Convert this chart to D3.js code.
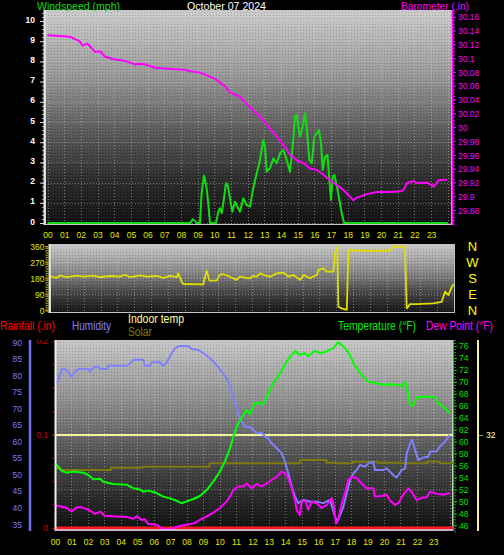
<!DOCTYPE html>
<html><head><meta charset="utf-8">
<script src="https://cdn.jsdelivr.net/npm/d3@7"></script>
<style>
html,body{margin:0;padding:0;background:#000;overflow:hidden}
svg{display:block}
text{font-family:"Liberation Sans",Arial,sans-serif}
</style>
</head><body><svg id="c" width="504" height="555"></svg>
<script>
// ---------- DATA ----------
const chartTitle = "October 07 2024";
const hourLabels = d3.range(0,24).map(h => String(h).padStart(2,"0"));
const hours = d3.range(0,24);

const windTicks = [0,1,2,3,4,5,6,7,8,9,10];
const baroTicks = [29.88,29.90,29.92,29.94,29.96,29.98,30.00,30.02,30.04,30.06,30.08,30.10,30.12,30.14,30.16];
const dirTicks = [0,90,180,270,360];
const dirLetters = ["N","E","S","W","N"];
const humTicks = [35,40,45,50,55,60,65,70,75,80,85,90];
const tempTicks = [46,48,50,52,54,56,58,60,62,64,66,68,70,72,74,76];
const rainTicks = [0,0.1,0.2];
const indoorTicks = [32];

// [hour, mph]
const windSpeed = [[0,0],[8.55,0],[8.7,0.18],[8.85,0.1],[8.94,0],[9.14,0],[9.24,1.47],[9.38,2.34],[9.44,2.16],[9.54,1.72],[9.64,0.97],[9.74,0],[10.1,0],[10.24,0.56],[10.34,0.73],[10.44,0.48],[10.54,0.98],[10.7,1.97],[10.8,1.88],[10.94,1.22],[11.08,0.56],[11.24,1.05],[11.38,0.81],[11.54,0.56],[11.74,1.22],[11.94,0.89],[12.14,0.81],[12.34,1.75],[12.54,2.45],[12.7,2.96],[12.94,4.1],[13.04,3.78],[13.14,2.54],[13.34,2.71],[13.54,3.2],[13.74,2.96],[13.94,3.45],[14.14,3.61],[14.34,3.12],[14.54,2.54],[14.7,3.78],[14.84,5.26],[14.94,5.35],[15.14,4.27],[15.3,4.77],[15.44,5.43],[15.54,4.77],[15.7,3.12],[15.84,2.96],[16.0,4.27],[16.14,4.44],[16.28,4.6],[16.4,3.95],[16.5,2.62],[16.64,3.28],[16.78,3.37],[16.9,2.13],[17.0,1.14],[17.1,2.29],[17.2,2.38],[17.34,1.88],[17.5,1.14],[17.64,0.48],[17.78,0],[24,0]];
// [hour, inHg]
const barometer = [[0,30.133],[0.75,30.132],[1.35,30.131],[1.95,30.124],[2.1,30.118],[2.4,30.121],[2.85,30.109],[3.15,30.11],[3.45,30.102],[4.05,30.098],[4.65,30.096],[5.25,30.091],[5.55,30.092],[5.85,30.091],[6.45,30.086],[7.05,30.085],[7.65,30.084],[8.25,30.083],[8.55,30.081],[9.15,30.079],[9.45,30.076],[10.05,30.07],[10.65,30.059],[10.95,30.05],[11.55,30.044],[12.0,30.032],[12.45,30.022],[12.95,30.01],[13.35,29.998],[13.75,29.986],[14.15,29.974],[14.55,29.96],[14.95,29.952],[15.35,29.948],[15.75,29.94],[16.15,29.938],[16.55,29.931],[16.95,29.923],[17.35,29.916],[17.75,29.909],[18.15,29.899],[18.35,29.894],[18.55,29.898],[19.15,29.903],[19.75,29.906],[20.55,29.906],[21.15,29.907],[21.35,29.909],[21.55,29.919],[21.95,29.922],[22.15,29.919],[22.75,29.92],[23.15,29.914],[23.45,29.923],[23.95,29.924]];
// [hour, degrees]
const windDir = [[0,189],[0.1,189],[0.4,183],[0.6,195],[1.0,186],[1.58,195],[1.98,189],[2.57,195],[2.97,186],[3.56,193],[4.16,189],[4.46,200],[4.75,186],[5.35,197],[5.74,189],[6.34,193],[6.73,183],[7.13,193],[7.53,186],[7.62,208],[7.82,161],[7.92,148],[9.11,146],[9.21,189],[9.31,223],[9.47,167],[9.9,167],[10.08,199],[10.28,204],[10.68,189],[11.08,171],[11.27,189],[11.67,183],[11.88,180],[12.08,193],[12.28,189],[12.48,208],[12.67,199],[13.07,189],[13.47,208],[13.87,212],[14.16,189],[14.46,199],[14.86,171],[15.05,199],[15.45,180],[15.85,199],[15.95,227],[16.24,236],[16.44,217],[16.83,217],[16.93,321],[17.07,358],[17.13,20],[17.33,11],[17.63,2],[17.73,339],[18.42,335],[20.2,335],[20.36,358],[21.09,358],[21.19,11],[21.39,35],[21.79,35],[22.78,39],[23.27,48],[23.47,105],[23.67,86],[23.87,133],[24.0,148]];
// [hour, %]
const humidity = [[0,76.8],[0.2,78.6],[0.4,81.8],[0.6,82.1],[0.81,81.1],[1.01,79.6],[1.22,81.1],[1.42,81.9],[2.03,81.9],[2.13,81.1],[2.23,81.9],[2.43,82.6],[2.63,82.6],[2.74,81.9],[3.14,81.9],[3.24,82.9],[4.36,82.9],[4.56,83.6],[4.76,84.7],[5.37,84.7],[5.47,82.9],[5.78,82.9],[5.88,84.0],[6.38,84.0],[6.55,82.9],[6.79,83.8],[7.09,86.7],[7.29,88.2],[7.6,88.9],[8.1,88.9],[8.31,88.0],[8.71,87.7],[9.02,86.7],[9.42,85.2],[9.73,83.7],[10.13,81.1],[10.44,79.1],[10.64,76.6],[10.84,73.1],[11.04,70.1],[11.25,67],[11.55,64.5],[11.85,64.5],[12.26,62.5],[12.57,62.7],[12.77,61.5],[12.97,61],[13.17,59.5],[13.48,58],[13.78,56.5],[13.98,53.9],[14.18,50.4],[14.39,46.4],[14.59,43.4],[14.79,41.4],[15.09,42.4],[15.5,41.8],[15.91,41.8],[16.31,41.4],[16.72,42.4],[17.02,37.3],[17.16,35.8],[17.33,37.8],[17.53,40.3],[17.73,44.4],[17.93,48.4],[18.14,50.4],[18.34,51.4],[18.54,52.9],[18.84,52.4],[19.05,53.4],[19.35,53.9],[19.45,51.4],[19.96,51.4],[20.16,51.9],[20.36,50.9],[20.67,49.4],[20.77,49.2],[21.08,51.4],[21.28,51.9],[21.38,56.4],[21.58,59.4],[21.72,60.5],[21.88,57.5],[22.09,54.4],[22.39,55.2],[22.69,55.4],[22.8,57],[23.2,57],[23.4,58.5],[23.71,60],[24,62]];
// [hour, °F]
const temperature = [[0,56.4],[0.2,55.8],[0.41,55.1],[0.71,54.8],[1.11,55.0],[1.72,54.8],[2.03,54.4],[2.33,53.7],[2.74,53.8],[2.94,53.3],[3.54,52.9],[4.36,52.8],[4.76,52.2],[5.17,52.0],[5.37,51.6],[5.67,51.8],[6.18,51.4],[6.58,50.8],[6.99,50.5],[7.4,50.1],[7.7,49.7],[8.0,50.0],[8.41,50.4],[8.81,50.9],[9.22,51.9],[9.62,53.3],[10.03,55.0],[10.33,56.7],[10.64,58.9],[10.84,60.8],[11.04,62.5],[11.25,63.6],[11.65,65.3],[11.85,64.6],[12.16,66.5],[12.36,66.5],[12.66,66.2],[12.87,67.5],[13.27,69.8],[13.68,71.4],[14.09,73.4],[14.39,74.5],[14.59,75.2],[14.89,74.5],[15.2,74.8],[15.4,74.3],[15.81,75.2],[16.11,74.8],[16.41,75.0],[16.72,75.4],[16.92,75.6],[17.22,76.6],[17.43,76.2],[17.73,75.3],[17.93,74.5],[18.14,73.1],[18.34,72.3],[18.64,71.2],[19.05,70.0],[19.45,69.8],[19.96,69.5],[20.36,69.6],[20.77,69.5],[21.08,69.2],[21.28,70.0],[21.42,68.6],[21.58,66.1],[21.78,66.1],[21.99,67.4],[22.39,67.5],[22.9,67.5],[23.1,67.4],[23.3,66.4],[23.61,65.9],[24,64.7]];
const dewPoint = [[0,48.9],[0.1,49.3],[0.3,49.2],[0.71,48.9],[1.01,48.3],[1.32,49.0],[1.62,49.0],[1.93,48.7],[2.23,48.3],[2.43,47.9],[2.74,48.3],[3.04,47.6],[3.54,47.5],[4.36,47.4],[4.76,47.1],[4.96,47.5],[5.27,46.9],[5.47,47.0],[5.67,46.2],[6.18,46.1],[6.49,45.5],[6.79,45.3],[7.19,45.5],[7.6,45.9],[8.0,46.1],[8.41,46.3],[8.81,46.9],[9.22,47.5],[9.62,48.1],[10.03,48.9],[10.44,50.0],[10.64,50.8],[10.84,51.9],[11.14,52.5],[11.45,52.5],[11.65,53.0],[11.96,52.2],[12.26,52.9],[12.57,52.5],[12.87,53.0],[13.17,53.6],[13.48,54.1],[13.78,55.0],[13.98,54.7],[14.18,53.9],[14.39,52.2],[14.59,50.2],[14.69,48.6],[14.89,47.7],[14.99,50.0],[15.2,50.2],[15.4,48.6],[15.6,50.0],[15.91,49.7],[16.21,48.9],[16.52,49.4],[16.82,50.5],[16.92,49.7],[17.08,46.3],[17.22,46.9],[17.43,49.7],[17.63,51.4],[17.83,53.6],[18.04,54.1],[18.34,53.9],[18.64,53.0],[18.95,52.2],[19.35,52.2],[19.45,50.8],[19.86,50.9],[20.16,51.1],[20.36,50.2],[20.67,49.4],[20.87,49.7],[21.17,51.1],[21.48,52.2],[21.68,51.6],[21.99,50.2],[22.29,50.6],[22.59,50.7],[22.8,51.6],[23.2,51.3],[23.61,51.1],[24,51.4]];
// [hour, solar (relative)]
const solar = [[0,32.5],[0.3,31.6],[3.4,32.8],[5.3,33.3],[9.4,35.1],[14.9,36.8],[16.5,35.4],[17.2,35.1],[18.1,35.9],[19.6,35.4],[21.0,35.1],[22.6,35.9],[23.4,35.1],[24.2,35.1]];
const indoorTemp = [[0,32],[24.2,32]];
const rainfall = [[0,0],[24.2,0]];

// ---------- LAYOUT ----------
const W = 504, H = 555;
const T = {x0:45, x1:452, y0:10, y1:225, id:"T"};
const M = {x0:50, x1:455, y0:244, y1:313, id:"M"};
const B = {x0:55, x1:453, y0:340, y1:531, id:"B"};

const xTop = d3.scaleLinear().domain([0,24]).range([47.5,447.8]);
const xMid = d3.scaleLinear().domain([0,24]).range([50,454]);
const xBot = d3.scaleLinear().domain([0,24]).range([55,449.8]);
const windY = d3.scaleLinear().domain([0,10]).range([223,21]);
const baroY = d3.scaleLinear().domain([29.88,30.16]).range([210,16.7]);
const dirY = d3.scaleLinear().domain([0,360]).range([310.3,246.3]);
const humY = d3.scaleLinear().domain([35,90]).range([524.3,342.3]);
const tempY = d3.scaleLinear().domain([46,76]).range([525.3,346]);
const rainY = d3.scaleLinear().domain([0,0.2]).range([528,341]);
const indoorY = d3.scaleLinear().domain([0,64]).range([530,340]);
const solarY = d3.scaleLinear().domain([0,100]).range([530,340]);

const svg = d3.select("#c");
svg.append("rect").attr("width",W).attr("height",H).attr("fill","#000");
const defs = svg.append("defs");
function grad(id, stops){
  const g = defs.append("linearGradient").attr("id",id).attr("x1",0).attr("y1",0).attr("x2",0).attr("y2",1);
  stops.forEach(([o,c]) => g.append("stop").attr("offset",o).attr("stop-color",c));
}
grad("gTop", [[0,"#cdcdcd"],[0.3,"#9a9a9a"],[0.55,"#5e5e5e"],[0.8,"#2a2a2a"],[1,"#111"]]);
grad("gMid", [[0,"#cccccc"],[0.4,"#8a8a8a"],[0.75,"#3c3c3c"],[1,"#151515"]]);
grad("gBot", [[0,"#c8c8c8"],[0.3,"#939393"],[0.6,"#525252"],[0.85,"#262626"],[1,"#0e0e0e"]]);
const pat = defs.append("pattern").attr("id","dith").attr("width",3).attr("height",3).attr("patternUnits","userSpaceOnUse");
pat.append("rect").attr("x",0).attr("y",0).attr("width",1).attr("height",1).attr("fill","rgba(0,0,0,0.18)");
pat.append("rect").attr("x",2).attr("y",1).attr("width",1).attr("height",1).attr("fill","rgba(255,255,255,0.08)");

function clip(P){ defs.append("clipPath").attr("id","c"+P.id).append("rect").attr("x",P.x0).attr("y",P.y0).attr("width",P.x1-P.x0).attr("height",P.y1-P.y0); }
clip(T); clip(M); clip(B);
defs.append("clipPath").attr("id","cRainLab").append("rect").attr("x",0).attr("y",339.5).attr("width",60).attr("height",200);

function panel(P, g){
  svg.append("rect").attr("x",P.x0).attr("y",P.y0).attr("width",P.x1-P.x0).attr("height",P.y1-P.y0).attr("fill",`url(#${g})`);
  svg.append("rect").attr("x",P.x0).attr("y",P.y0).attr("width",P.x1-P.x0).attr("height",P.y1-P.y0).attr("fill","url(#dith)");
}
panel(T,"gTop"); panel(M,"gMid"); panel(B,"gBot");

const gridCol = "rgba(215,215,215,0.45)";
function vgrid(P, x){
  svg.append("g").selectAll("line").data(d3.range(0,25)).join("line")
    .attr("x1",d=>Math.round(x(d))+0.5).attr("x2",d=>Math.round(x(d))+0.5)
    .attr("y1",P.y0).attr("y2",P.y1).attr("stroke",gridCol).attr("stroke-dasharray","1,2")
    .attr("clip-path","url(#c"+P.id+")");
}
function hgrid(P, y, vals){
  svg.append("g").selectAll("line").data(vals).join("line")
    .attr("x1",P.x0).attr("x2",P.x1).attr("y1",d=>Math.round(y(d))+0.5).attr("y2",d=>Math.round(y(d))+0.5)
    .attr("stroke",gridCol).attr("stroke-dasharray","1,2");
}
vgrid(T,xTop); hgrid(T,windY,windTicks);
vgrid(M,xMid); hgrid(M,dirY,[90,180,270]);
vgrid(B,xBot); hgrid(B,tempY,[52,58,64,70]);

function frame(P){
  svg.append("rect").attr("x",P.x0+0.5).attr("y",P.y0+0.5).attr("width",P.x1-P.x0-1).attr("height",P.y1-P.y0-1)
    .attr("fill","none").attr("stroke","#c4c4c4").attr("stroke-width",1);
}
frame(T); frame(M); frame(B);

function line(data, x, y, color, w, clipId, curve){
  svg.append("path").datum(data).attr("fill","none").attr("stroke",color).attr("stroke-width",w)
    .attr("stroke-linejoin","round").attr("clip-path",`url(#${clipId})`)
    .attr("d", d3.line().x(d=>x(d[0])).y(d=>y(d[1])).curve(curve||d3.curveLinear));
}

// ---------- TOP PANEL ----------
line(windSpeed, xTop, windY, "#11dd11", 2, "cT");
line(barometer, xTop, baroY, "#ff00ff", 2, "cT");

svg.append("line").attr("x1",T.x0-0.5).attr("x2",T.x0-0.5).attr("y1",T.y0).attr("y2",T.y1).attr("stroke","#e8e8e8").attr("stroke-width",2);
const wMinor = svg.append("g").attr("transform",`translate(${T.x0-1},0)`).call(d3.axisLeft(windY).tickValues(d3.range(0,10.41,0.2)).tickSize(2).tickFormat(""));
wMinor.select(".domain").remove(); wMinor.selectAll("line").attr("stroke","#bbb");
const wAx = svg.append("g").attr("transform",`translate(${T.x0-1},0)`).call(d3.axisLeft(windY).tickValues(windTicks).tickSize(4).tickPadding(5).tickFormat(d3.format("d")));
wAx.select(".domain").remove();
wAx.selectAll("line").attr("stroke","#ddd");
wAx.selectAll("text").attr("fill","#fff").attr("font-size",8.5).attr("font-weight","bold").attr("dy","0.12em");

svg.append("line").attr("x1",T.x1+0.5).attr("x2",T.x1+0.5).attr("y1",T.y0).attr("y2",T.y1).attr("stroke","#ff00ff").attr("stroke-width",1.5);
const bMinor = svg.append("g").attr("transform",`translate(${T.x1+1},0)`).call(d3.axisRight(baroY).tickValues(d3.range(29.86,30.171,0.005)).tickSize(2).tickFormat(""));
bMinor.select(".domain").remove(); bMinor.selectAll("line").attr("stroke","#ff00ff");
const bAx = svg.append("g").attr("transform",`translate(${T.x1+1},0)`).call(d3.axisRight(baroY).tickValues(baroTicks).tickSize(3).tickPadding(2).tickFormat(d => String(+d.toFixed(2))));
bAx.select(".domain").remove();
bAx.selectAll("line").attr("stroke","#ff00ff");
bAx.selectAll("text").attr("fill","#ff00ff").attr("font-size",8.5).attr("dy","0.38em");

const hTop = svg.append("g").attr("transform",`translate(0,${T.y1})`).call(d3.axisBottom(xTop).tickValues(hours).tickSize(0).tickFormat((d,i)=>hourLabels[i]));
hTop.select(".domain").remove();
hTop.selectAll("text").attr("fill","#e6e600").attr("font-size",8.5).attr("y",10).attr("dy","0.35em");

function label(txt, x, y, color, len, size, anchor){
  const t = svg.append("text").attr("x",x).attr("y",y).attr("fill",color).attr("font-size",size||12).text(txt);
  if (len) t.attr("textLength",len).attr("lengthAdjust","spacingAndGlyphs");
  if (anchor) t.attr("text-anchor",anchor);
  return t;
}
label("Windspeed (mph)", 37, 10, "#11dd11", 83, 11.5);
label(chartTitle, 187, 10, "#ffffff", 79, 11.5);
label("Barometer (.in)", 401, 10, "#ff00ff", 68, 11.5);

// ---------- MIDDLE PANEL ----------
line(windDir, xMid, dirY, "#dede00", 1.8, "cM");
svg.append("line").attr("x1",M.x0-0.5).attr("x2",M.x0-0.5).attr("y1",M.y0).attr("y2",M.y1).attr("stroke","#e8e8e8").attr("stroke-width",2);
const dMinor = svg.append("g").attr("transform",`translate(${M.x0-1.5},0)`).call(d3.axisLeft(dirY).tickValues(d3.range(0,361,10)).tickSize(3).tickFormat(""));
dMinor.select(".domain").remove(); dMinor.selectAll("line").attr("stroke","#9a9a20");
const dAx = svg.append("g").attr("transform",`translate(${M.x0-1.5},0)`).call(d3.axisLeft(dirY).tickValues(dirTicks).tickSize(3).tickPadding(1).tickFormat(d3.format("d")));
dAx.select(".domain").remove(); dAx.selectAll("line").attr("stroke","#c8c800");
dAx.selectAll("text").attr("fill","#e6e600").attr("font-size",8.5).attr("dy","0.32em");
svg.append("g").selectAll("text").data(dirTicks).join("text")
  .attr("x",472.5).attr("y",d=>dirY(d)).attr("dy","0.36em").attr("text-anchor","middle")
  .attr("fill","#ffff00").attr("font-size",13).text((d,i)=>dirLetters[i]);

// ---------- BOTTOM PANEL ----------
line(rainfall, xBot, rainY, "#ff1a1a", 3, "cB");
line(indoorTemp, xBot, indoorY, "#f4f49a", 1.8, "cB");
line(solar, xBot, solarY, "#7f7a10", 2, "cB", d3.curveStepAfter);
line(humidity, xBot, humY, "#8080ff", 2, "cB");
line(temperature, xBot, tempY, "#00ff00", 2, "cB");
line(dewPoint, xBot, tempY, "#ff00ff", 2, "cB");

svg.append("line").attr("x1",B.x0+0.5).attr("x2",B.x0+0.5).attr("y1",B.y0).attr("y2",B.y1).attr("stroke","#f0f0f0").attr("stroke-width",2);
svg.append("line").attr("x1",B.x0).attr("x2",B.x1).attr("y1",B.y1-1).attr("y2",B.y1-1).attr("stroke","#d8a8c8").attr("stroke-width",2);

svg.append("line").attr("x1",30).attr("x2",30).attr("y1",B.y0).attr("y2",B.y1).attr("stroke","#7070ee").attr("stroke-width",2.5);
const hAx = svg.append("g").attr("transform","translate(29,0)").call(d3.axisLeft(humY).tickValues(humTicks).tickSize(0).tickPadding(7).tickFormat(d3.format("d")));
hAx.select(".domain").remove();
hAx.selectAll("text").attr("fill","#7a7aff").attr("font-size",8.5).attr("dy","0.32em");

const rMinor = svg.append("g").attr("transform",`translate(${B.x0-1},0)`).call(d3.axisLeft(rainY).tickValues(d3.range(0,0.2001,0.025)).tickSize(2).tickFormat(""));
rMinor.select(".domain").remove(); rMinor.selectAll("line").attr("stroke","#c00000");
const rWrap = svg.append("g").attr("clip-path","url(#cRainLab)");
const rAx = rWrap.append("g").attr("transform",`translate(${B.x0-1},0)`).call(d3.axisLeft(rainY).tickValues(rainTicks).tickSize(2).tickPadding(4).tickFormat(d => String(d)));
rAx.select(".domain").remove(); rAx.selectAll("line").attr("stroke","#c00000");
rAx.selectAll("text").attr("fill","#cc0000").attr("font-size",8.5).attr("dy","0.32em");

svg.append("line").attr("x1",B.x1+0.5).attr("x2",B.x1+0.5).attr("y1",B.y0).attr("y2",B.y1).attr("stroke","#00c000").attr("stroke-width",1);
const tMinor = svg.append("g").attr("transform",`translate(${B.x1+1},0)`).call(d3.axisRight(tempY).tickValues(d3.range(45,77.1,0.5)).tickSize(2).tickFormat(""));
tMinor.select(".domain").remove(); tMinor.selectAll("line").attr("stroke","#00b000");
const tAx = svg.append("g").attr("transform",`translate(${B.x1+1},0)`).call(d3.axisRight(tempY).tickValues(tempTicks).tickSize(3).tickPadding(2).tickFormat(d3.format("d")));
tAx.select(".domain").remove(); tAx.selectAll("line").attr("stroke","#00d000");
tAx.selectAll("text").attr("fill","#00e000").attr("font-size",8.5).attr("dy","0.32em");

svg.append("line").attr("x1",478).attr("x2",478).attr("y1",B.y0).attr("y2",B.y1).attr("stroke","#f4f49a").attr("stroke-width",2);
const iAx = svg.append("g").attr("transform","translate(479,0)").call(d3.axisRight(indoorY).tickValues(indoorTicks).tickSize(4).tickPadding(3).tickFormat(d3.format("d")));
iAx.select(".domain").remove(); iAx.selectAll("line").attr("stroke","#9a9a40");
iAx.selectAll("text").attr("fill","#ffffa0").attr("font-size",8.5).attr("dy","0.32em");

const hBot = svg.append("g").attr("transform",`translate(0,${B.y1})`).call(d3.axisBottom(xBot).tickValues(hours).tickSize(0).tickFormat((d,i)=>hourLabels[i]));
hBot.select(".domain").remove();
hBot.selectAll("text").attr("fill","#e6e600").attr("font-size",8.5).attr("y",11).attr("dy","0.35em");

label("Rainfall (.in)", 0, 330, "#ff0000", 55);
label("Humidity", 72, 330, "#8080ff", 39);
label("Indoor temp", 128, 323, "#ffffa0", 56);
label("Solar", 128, 335.5, "#808000", 24);
label("Temperature (\u00B0F)", 338, 330, "#00ee00", 78);
label("Dew Point (\u00B0F)", 426, 330, "#ff00ff", 67);
</script></body></html>
